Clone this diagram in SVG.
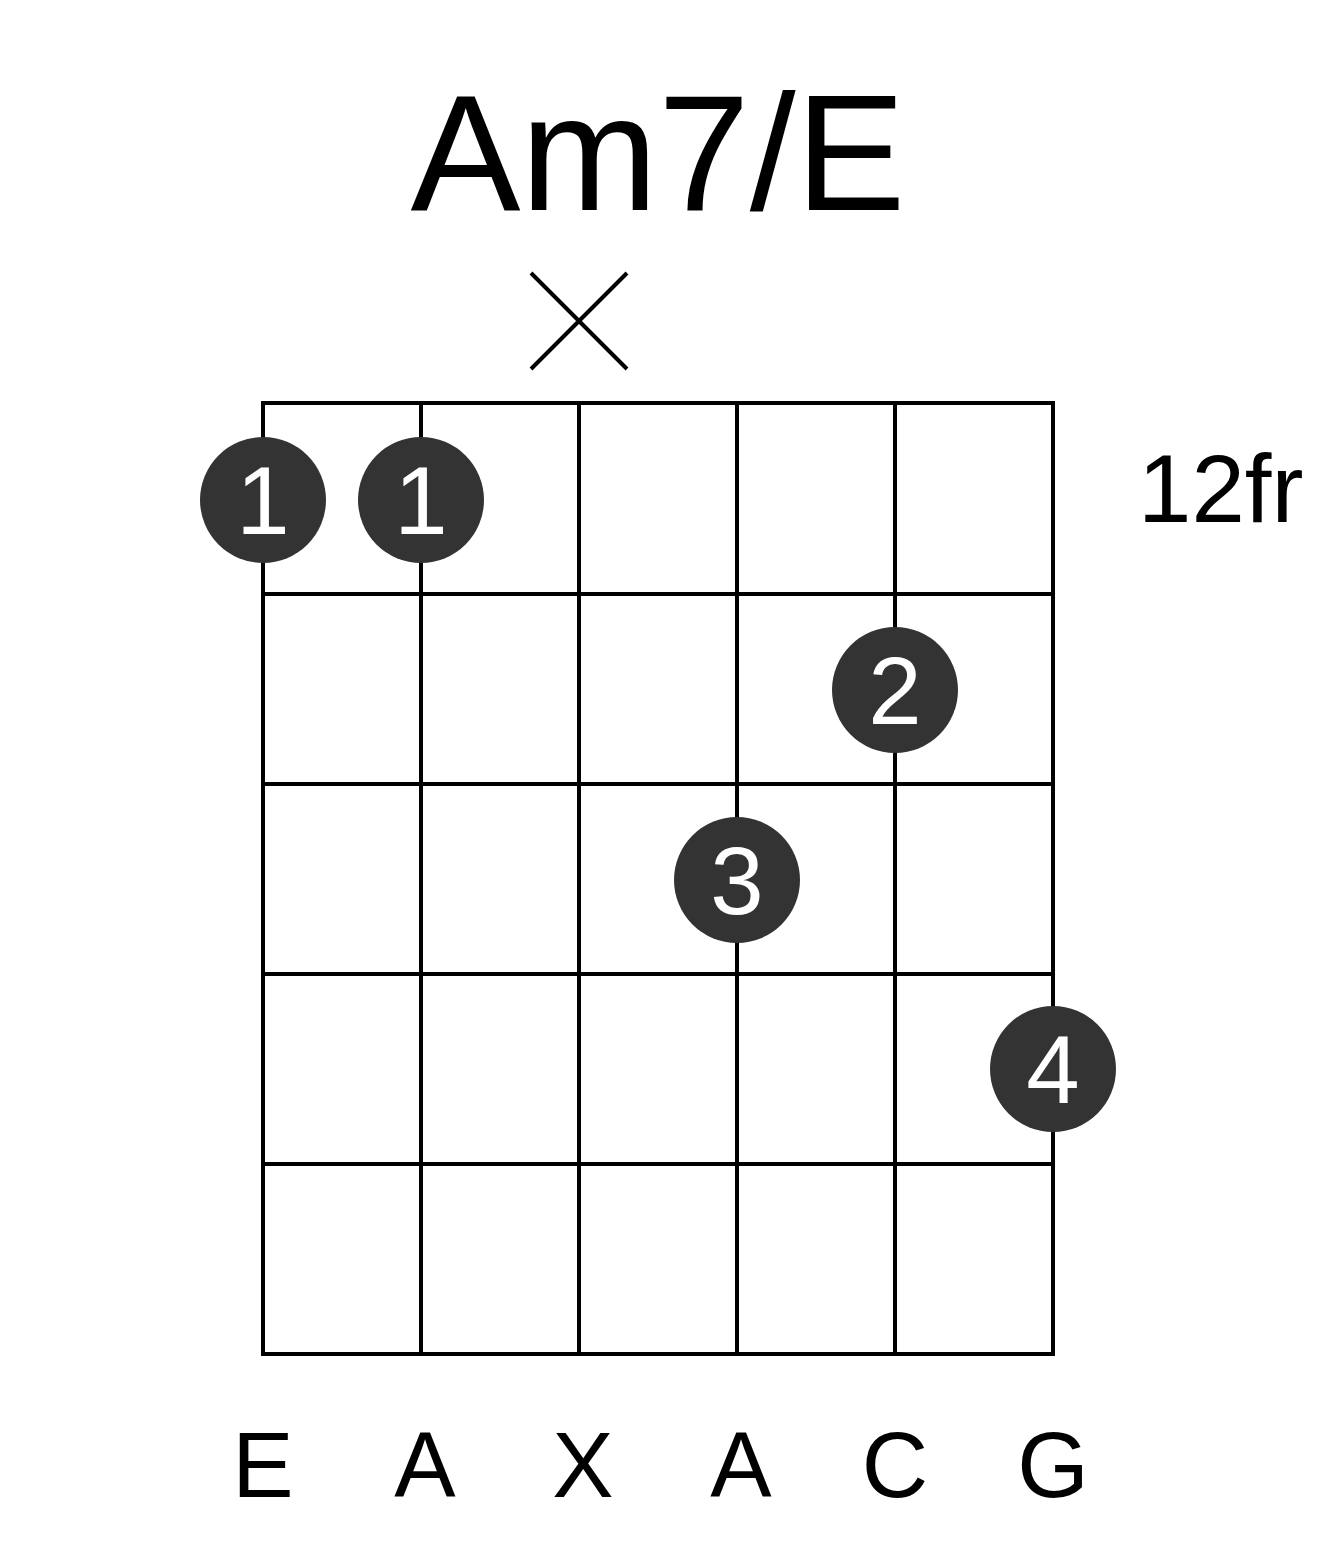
<svg xmlns="http://www.w3.org/2000/svg" width="1317" height="1551" viewBox="0 0 1317 1551">
<style>
.g{stroke:#000;stroke-width:4;fill:none}
.t{font-family:"Liberation Sans",Arial,sans-serif;fill:#000}
.d{fill:#333}
.n{font-family:"Liberation Sans",Arial,sans-serif;fill:#fff;font-size:96px;text-anchor:middle}
.b{font-size:92px;text-anchor:middle}
</style>
<rect width="1317" height="1551" fill="#fff"/>
<text class="t" x="658" y="210" font-size="165" text-anchor="middle">Am7/E</text>
<g id="mute" class="g"><path d="M531 273L627 369M627 273L531 369"/></g>
<g id="grid" class="g">
<rect x="263" y="403" width="790" height="951"/>
<path d="M421 403V1354M579 403V1354M737 403V1354M895 403V1354M263 594H1053M263 784H1053M263 974H1053M263 1164H1053"/>
</g>
<text class="t" x="1138" y="522" font-size="96">12fr</text>
<g id="dot1a"><circle class="d" cx="263" cy="500" r="63"/><text class="n" x="263" y="534">1</text></g>
<g id="dot1b"><circle class="d" cx="421" cy="500" r="63"/><text class="n" x="421" y="534">1</text></g>
<g id="dot2"><circle class="d" cx="895" cy="690" r="63"/><text class="n" x="895" y="724">2</text></g>
<g id="dot3"><circle class="d" cx="737" cy="880" r="63"/><text class="n" x="737" y="914">3</text></g>
<g id="dot4"><circle class="d" cx="1053" cy="1069" r="63"/><text class="n" x="1053" y="1103">4</text></g>
<g id="labels" class="t">
<text class="t b" x="263" y="1497">E</text>
<text class="t b" x="425" y="1497">A</text>
<text class="t b" x="583" y="1497">X</text>
<text class="t b" x="741" y="1497">A</text>
<text class="t b" x="895" y="1497">C</text>
<text class="t b" x="1053" y="1497">G</text>
</g>
</svg>
